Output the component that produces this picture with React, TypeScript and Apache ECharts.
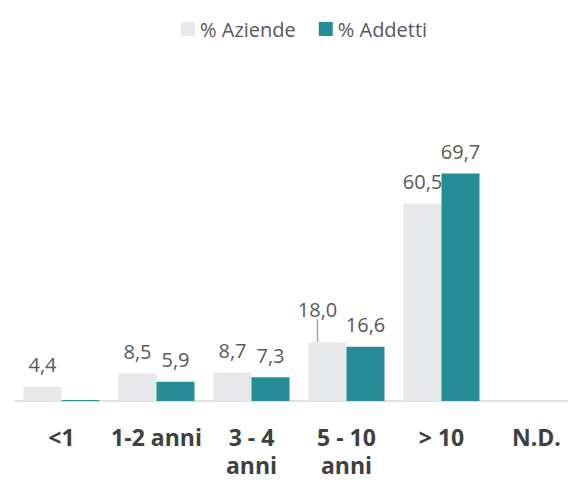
import React, { useEffect, useRef } from "react";
import * as echarts from "echarts";

const categories = ["<1", "1-2 anni", "3 - 4\nanni", "5 - 10\nanni", "> 10", "N.D."];
const aziende = [4.4, 8.5, 8.7, 18.0, 60.5, null];
const addetti = [0.3, 5.9, 7.3, 16.6, 69.7, null];
const hiddenAddettiLabels = [0];
const movedAziendeLabel = 3;

const fmt = (v: number) => v.toFixed(1).replace(".", ",");

export default function App() {
  const ref = useRef<HTMLDivElement>(null);
  useEffect(() => {
    if (!ref.current) return;
    const chart = echarts.init(ref.current, undefined, { renderer: "svg" });
    const font = "'Open Sans', 'Noto Sans', sans-serif";
    const labelBase = {
      show: true,
      position: "top",
      distance: 12,
      fontSize: 20,
      color: "#595959",
      fontFamily: font,
      formatter: (p: any) => fmt(p.value),
    };
    chart.setOption({
      animation: false,
      textStyle: { fontFamily: font },
      legend: {
        top: 14,
        left: 176,
        itemWidth: 14,
        itemHeight: 14,
        itemGap: 23,
        icon: "rect",
        textStyle: { fontSize: 20, color: "#595959", fontFamily: font },
        data: ["% Aziende", "% Addetti"],
      },
      grid: {
        left: 14,
        width: 570,
        top: 140,
        bottom: 79,
        containLabel: false,
        outerBoundsMode: "none",
      },
      xAxis: {
        type: "category",
        data: categories,
        axisLine: { lineStyle: { color: "#d9d9d9", width: 1.5 } },
        axisTick: { show: false },
        axisLabel: {
          interval: 0,
          margin: 22,
          fontSize: 23,
          fontWeight: "bold",
          color: "#404040",
          lineHeight: 28,
          fontFamily: font,
        },
      },
      yAxis: { type: "value", min: 0, max: 80, show: false, splitLine: { show: false } },
      series: [
        {
          name: "% Aziende",
          type: "bar",
          barWidth: "40%",
          barGap: "0%",
          itemStyle: { color: "#e7e8ea" },
          data: aziende.map((v, i) =>
            i === movedAziendeLabel
              ? { value: v, labelLine: { show: true, lineStyle: { color: "#a6a6a6", width: 1.5 } } }
              : v
          ),
          label: labelBase,
          labelLine: { show: false },
          labelLayout: (p: any) => (p.dataIndex === movedAziendeLabel ? { dx: -10, dy: -11 } : {}),
        },
        {
          name: "% Addetti",
          type: "bar",
          barWidth: "40%",
          barGap: "0%",
          itemStyle: { color: "#268c96" },
          data: addetti.map((v, i) =>
            hiddenAddettiLabels.includes(i) ? { value: v, label: { show: false } } : v
          ),
          label: labelBase,
        },
      ],
    });
    return () => chart.dispose();
  }, []);
  return <div ref={ref} style={{ width: 568, height: 480, position: "absolute", left: 0, top: 0 }} />;
}
